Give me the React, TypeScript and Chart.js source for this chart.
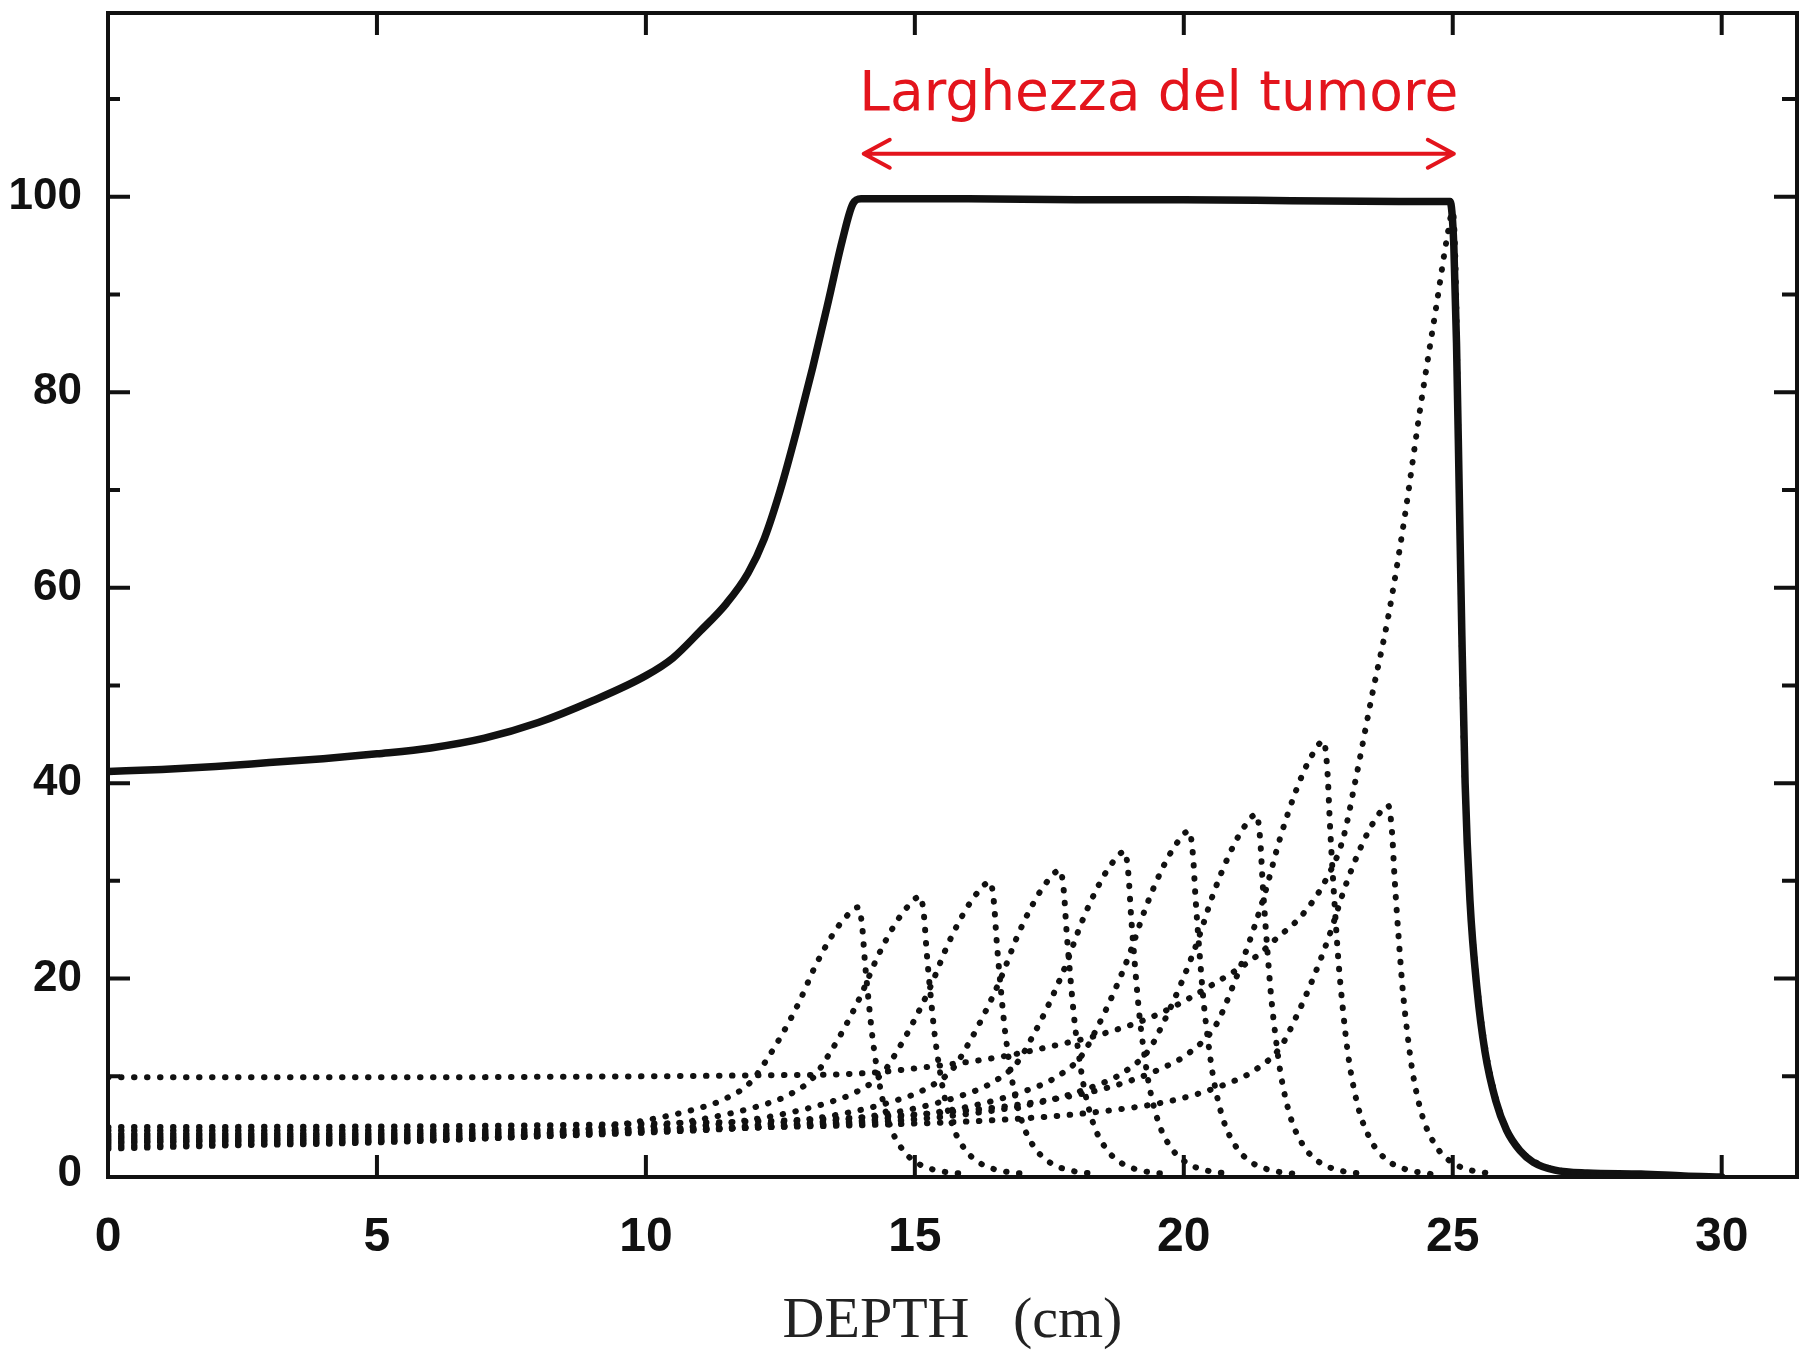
import React, { useEffect, useRef } from 'react';
import { Chart, registerables } from 'chart.js';

Chart.register(...registerables);

// ---- axes ----
const xTickValues = [0, 5, 10, 15, 20, 25, 30];
const yTickValues = [0, 10, 20, 30, 40, 50, 60, 70, 80, 90, 100, 110];
const yLabelValues = [0, 20, 40, 60, 80, 100];
const xTitle = 'DEPTH   (cm)';

// ---- annotation ----
const annotationText = 'Larghezza del tumore';
const tumorStart = 14.05;
const tumorEnd = 25.02;
const arrowLevel = 104.4;
const labelLevel = 108.9;

// ---- spread-out Bragg peak (solid) ----
const sobpDepth = [0, 1, 2, 3, 4, 5, 6, 7, 8, 9, 10, 10.5, 11, 11.5, 11.9, 12.2, 12.5, 12.8, 13.1, 13.4, 13.65, 13.85, 14.0, 16, 18, 20, 22, 24, 24.95, 25.02, 25.07, 25.12, 25.17, 25.23, 25.32, 25.45, 25.6, 25.8, 26.0, 26.25, 26.5, 26.9, 27.5, 28.5, 29.3, 30];
const sobpDose = [41.2, 41.4, 41.7, 42.1, 42.5, 43.0, 43.6, 44.6, 46.2, 48.4, 51.0, 52.8, 55.5, 58.4, 61.5, 65.0, 70.0, 76.0, 82.5, 89.5, 95.5, 99.3, 99.8, 99.8, 99.7, 99.7, 99.6, 99.5, 99.5, 95, 85, 70, 55, 40, 28, 19, 12.5, 7.5, 4.5, 2.4, 1.2, 0.4, 0.1, 0, -0.2, -0.3];

// ---- single Bragg peaks (dotted) ----
const peak1Depth = [0, 1.95, 4.95, 6.95, 8.45, 9.95, 10.95, 11.45, 11.95, 12.25, 12.55, 12.85, 13.15, 13.45, 13.7, 13.95, 14.02, 14.07, 14.15, 14.22, 14.3, 14.4, 14.58, 14.82, 15.1, 15.45, 15.95];
const peak1Dose = [2.6, 2.89, 3.23, 3.69, 4.32, 5.46, 6.69, 7.64, 9.42, 11.74, 14.47, 17.61, 21.29, 24.3, 26.2, 27.3, 25.39, 21.84, 17.2, 13.65, 10.65, 7.64, 4.37, 2.18, 0.96, 0.33, 0];

const peak2Depth = [0, 3.1, 6.1, 8.1, 9.6, 11.1, 12.1, 12.6, 13.1, 13.4, 13.7, 14.0, 14.3, 14.6, 14.85, 15.1, 15.17, 15.22, 15.3, 15.37, 15.45, 15.55, 15.73, 15.97, 16.25, 16.6, 17.1];
const peak2Dose = [2.85, 3.13, 3.47, 3.93, 4.55, 5.68, 6.96, 7.95, 9.8, 12.21, 15.05, 18.32, 22.15, 25.28, 27.26, 28.4, 26.41, 22.72, 17.89, 14.2, 11.08, 7.95, 4.54, 2.27, 0.99, 0.34, 0];

const peak3Depth = [0, 0.4, 4.4, 7.4, 9.4, 10.9, 12.4, 13.4, 13.9, 14.4, 14.7, 15.0, 15.3, 15.6, 15.9, 16.15, 16.4, 16.47, 16.52, 16.6, 16.67, 16.75, 16.85, 17.03, 17.27, 17.55, 17.9, 18.4];
const peak3Dose = [3.1, 3.19, 3.39, 3.73, 4.19, 4.83, 5.98, 7.33, 8.37, 10.32, 12.86, 15.85, 19.29, 23.32, 26.61, 28.7, 29.9, 27.81, 23.92, 18.84, 14.95, 11.66, 8.37, 4.78, 2.39, 1.05, 0.36, 0];

const peak4Depth = [0, 1.7, 5.7, 8.7, 10.7, 12.2, 13.7, 14.7, 15.2, 15.7, 16.0, 16.3, 16.6, 16.9, 17.2, 17.45, 17.7, 17.77, 17.82, 17.9, 17.97, 18.05, 18.15, 18.33, 18.57, 18.85, 19.2, 19.7];
const peak4Dose = [3.35, 3.44, 3.64, 3.98, 4.44, 5.07, 6.22, 7.62, 8.71, 10.73, 13.37, 16.48, 20.06, 24.26, 27.68, 29.86, 31.1, 28.92, 24.88, 19.59, 15.55, 12.13, 8.71, 4.98, 2.49, 1.09, 0.37, 0];

const peak5Depth = [0, 2.9, 6.9, 9.9, 11.9, 13.4, 14.9, 15.9, 16.4, 16.9, 17.2, 17.5, 17.8, 18.1, 18.4, 18.65, 18.9, 18.97, 19.02, 19.1, 19.17, 19.25, 19.35, 19.53, 19.77, 20.05, 20.4, 20.9];
const peak5Dose = [3.6, 3.69, 3.9, 4.26, 4.74, 5.4, 6.6, 8.09, 9.24, 11.39, 14.19, 17.49, 21.29, 25.74, 29.37, 31.68, 33.0, 30.69, 26.4, 20.79, 16.5, 12.87, 9.24, 5.28, 2.64, 1.16, 0.4, 0];

const peak6Depth = [0, 4.1, 8.1, 11.1, 13.1, 14.6, 16.1, 17.1, 17.6, 18.1, 18.4, 18.7, 19.0, 19.3, 19.6, 19.85, 20.1, 20.17, 20.22, 20.3, 20.37, 20.45, 20.55, 20.73, 20.97, 21.25, 21.6, 22.1];
const peak6Dose = [3.85, 3.95, 4.17, 4.55, 5.06, 5.75, 7.02, 8.6, 9.83, 12.11, 15.09, 18.6, 22.64, 27.38, 31.24, 33.7, 35.1, 32.64, 28.08, 22.11, 17.55, 13.69, 9.83, 5.62, 2.81, 1.23, 0.42, 0];

const peak7Depth = [0, 5.35, 9.35, 12.35, 14.35, 15.85, 17.35, 18.35, 18.85, 19.35, 19.65, 19.95, 20.25, 20.55, 20.85, 21.1, 21.35, 21.42, 21.47, 21.55, 21.62, 21.7, 21.8, 21.98, 22.22, 22.5, 22.85, 23.35];
const peak7Dose = [4.1, 4.2, 4.43, 4.82, 5.34, 6.06, 7.36, 9.02, 10.3, 12.7, 15.82, 19.5, 23.74, 28.7, 32.75, 35.33, 36.8, 34.22, 29.44, 23.18, 18.4, 14.35, 10.3, 5.89, 2.94, 1.29, 0.44, 0];

const peak8Depth = [0, 6.6, 10.6, 13.6, 15.6, 17.1, 18.6, 19.6, 20.1, 20.6, 20.9, 21.2, 21.5, 21.8, 22.1, 22.35, 22.6, 22.67, 22.72, 22.8, 22.87, 22.95, 23.05, 23.23, 23.47, 23.75, 24.1, 24.6];
const peak8Dose = [4.8, 4.92, 5.21, 5.69, 6.34, 7.24, 8.86, 10.85, 12.4, 15.28, 19.05, 23.48, 28.57, 34.55, 39.43, 42.53, 44.3, 41.2, 35.44, 27.91, 22.15, 17.28, 12.4, 7.09, 3.54, 1.55, 0.53, 0];

const peak9Depth = [0, 7.8, 11.8, 14.8, 16.8, 18.3, 19.8, 20.8, 21.3, 21.8, 22.1, 22.4, 22.7, 23.0, 23.3, 23.55, 23.8, 23.87, 23.92, 24.0, 24.07, 24.15, 24.25, 24.43, 24.67, 24.95, 25.3, 25.8];
const peak9Dose = [4.45, 4.54, 4.76, 5.13, 5.62, 6.3, 7.54, 9.24, 10.56, 13.01, 16.21, 19.98, 24.32, 29.41, 33.55, 36.19, 37.7, 35.06, 30.16, 23.75, 18.85, 14.7, 10.56, 6.03, 3.02, 1.32, 0.45, 0];

const peak10Depth = [0, 2, 4, 6, 8, 10, 12, 14, 15.3, 16.6, 17.8, 18.4, 19.5, 20.6, 21.4, 21.7, 22.2, 22.65, 22.96, 23.2, 23.5, 23.8, 24.1, 24.4, 24.7, 24.9, 25.0, 25.05, 25.1, 25.15, 25.2, 25.3, 25.45, 25.6, 25.8, 26.0, 26.3, 26.7, 27.2, 27.8];
const peak10Dose = [9.9, 9.9, 9.9, 9.9, 9.95, 10.0, 10.1, 10.3, 11.0, 12.0, 13.4, 14.2, 16.3, 19.6, 22.5, 24.0, 26.5, 30.2, 34.3, 40.5, 49, 57, 67, 78.5, 89, 96, 98.5, 93, 77, 60, 45, 30, 19.5, 13, 7.8, 4.6, 2.2, 0.8, 0.2, 0];

const peakSeries: [number[], number[]][] = [
  [peak1Depth, peak1Dose],
  [peak2Depth, peak2Dose],
  [peak3Depth, peak3Dose],
  [peak4Depth, peak4Dose],
  [peak5Depth, peak5Dose],
  [peak6Depth, peak6Dose],
  [peak7Depth, peak7Dose],
  [peak8Depth, peak8Dose],
  [peak9Depth, peak9Dose],
  [peak10Depth, peak10Dose],
];

const INK = '#111111';
const RED = '#e3141c';
const SANS = '"Liberation Sans", Arial, Helvetica, sans-serif';

const toPoints = (xs: number[], ys: number[]) => xs.map((x, i) => ({ x, y: ys[i] }));

const framePlugin = {
  id: 'frameAndAnnotation',
  afterDraw(chart: any) {
    const { ctx, chartArea: a, scales } = chart;
    const xs = scales.x;
    const ys = scales.y;
    ctx.save();
    ctx.strokeStyle = INK;
    ctx.lineWidth = 4;
    ctx.lineCap = 'butt';
    ctx.strokeRect(a.left, a.top, a.right - a.left, a.bottom - a.top);
    ctx.beginPath();
    yTickValues.forEach((v) => {
      if (v === 0) return;
      const py = ys.getPixelForValue(v);
      const major = yLabelValues.includes(v);
      ctx.moveTo(a.left, py);
      ctx.lineTo(a.left + (major ? 22 : 12), py);
      ctx.moveTo(a.right, py);
      ctx.lineTo(a.right - (major ? 23 : 15), py);
    });
    xTickValues.forEach((v) => {
      if (v === 0) return;
      const px = xs.getPixelForValue(v);
      ctx.moveTo(px, a.bottom);
      ctx.lineTo(px, a.bottom - 22);
      ctx.moveTo(px, a.top);
      ctx.lineTo(px, a.top + 22);
    });
    ctx.stroke();

    // red double arrow + label
    const ax1 = xs.getPixelForValue(tumorStart);
    const ax2 = xs.getPixelForValue(tumorEnd);
    const ay = ys.getPixelForValue(arrowLevel);
    ctx.strokeStyle = RED;
    ctx.lineWidth = 4;
    ctx.lineCap = 'round';
    ctx.lineJoin = 'round';
    ctx.beginPath();
    ctx.moveTo(ax1, ay);
    ctx.lineTo(ax2, ay);
    ctx.moveTo(ax1 + 26, ay - 14);
    ctx.lineTo(ax1, ay);
    ctx.lineTo(ax1 + 26, ay + 14);
    ctx.moveTo(ax2 - 26, ay - 14);
    ctx.lineTo(ax2, ay);
    ctx.lineTo(ax2 - 26, ay + 14);
    ctx.stroke();
    ctx.fillStyle = RED;
    ctx.font = '55px "DejaVu Sans", sans-serif';
    ctx.textAlign = 'center';
    ctx.textBaseline = 'alphabetic';
    ctx.fillText(annotationText, (ax1 + ax2) / 2, ys.getPixelForValue(labelLevel));
    ctx.restore();
  },
};

export default function App() {
  const canvasRef = useRef<HTMLCanvasElement | null>(null);

  useEffect(() => {
    if (!canvasRef.current) return;
    const dotted = peakSeries.map(([xs, ys], i) => ({
      label: 'Bragg ' + (i + 1),
      data: toPoints(xs, ys),
      borderColor: INK,
      borderWidth: 6,
      borderDash: [0.5, 12.5],
      borderCapStyle: 'round' as const,
      pointRadius: 0,
      fill: false,
      cubicInterpolationMode: 'monotone' as const,
    }));
    const chart = new Chart(canvasRef.current, {
      type: 'line',
      data: {
        datasets: [
          ...dotted,
          {
            label: 'SOBP',
            data: toPoints(sobpDepth, sobpDose),
            borderColor: INK,
            borderWidth: 7.5,
            borderJoinStyle: 'round',
            borderCapStyle: 'round',
            pointRadius: 0,
            fill: false,
            cubicInterpolationMode: 'monotone',
          },
        ],
      },
      options: {
        animation: false,
        responsive: false,
        layout: { padding: { top: 13, right: 5, bottom: 0, left: 0 } },
        plugins: { legend: { display: false }, tooltip: { enabled: false } },
        scales: {
          x: {
            type: 'linear',
            min: 0,
            max: 31.4,
            afterBuildTicks: (scale: any) => {
              scale.ticks = xTickValues.map((v) => ({ value: v }));
            },
            afterFit: (scale: any) => {
              scale.height = 180;
              scale.paddingLeft = 0;
              scale.paddingRight = 0;
            },
            grid: { display: false, drawTicks: false },
            border: { display: false },
            ticks: {
              autoSkip: false,
              maxRotation: 0,
              padding: 32,
              color: INK,
              font: { family: SANS, size: 48, weight: 'bold' },
            },
            title: {
              display: true,
              text: xTitle,
              color: '#222222',
              padding: { top: 0, bottom: 0 },
              font: { family: '"Liberation Serif", "Times New Roman", serif', size: 58 },
            },
          },
          y: {
            type: 'linear',
            min: -0.3,
            max: 118.8,
            afterBuildTicks: (scale: any) => {
              scale.ticks = yTickValues.map((v) => ({ value: v }));
            },
            afterFit: (scale: any) => {
              scale.width = 108;
              scale.paddingTop = 0;
              scale.paddingBottom = 0;
            },
            grid: { display: false, drawTicks: false },
            border: { display: false },
            ticks: {
              autoSkip: false,
              padding: 26,
              color: INK,
              font: { family: SANS, size: 44, weight: 'bold' },
              callback: (value: any) => (yLabelValues.includes(Number(value)) ? String(value) : ''),
            },
          },
        },
      },
      plugins: [framePlugin],
    });
    return () => chart.destroy();
  }, []);

  return (
    <div style={{ position: 'fixed', left: 0, top: 0, width: 1802, height: 1357, background: '#fff' }}>
      <canvas ref={canvasRef} width={1802} height={1357} style={{ display: 'block', width: 1802, height: 1357 }} />
    </div>
  );
}
